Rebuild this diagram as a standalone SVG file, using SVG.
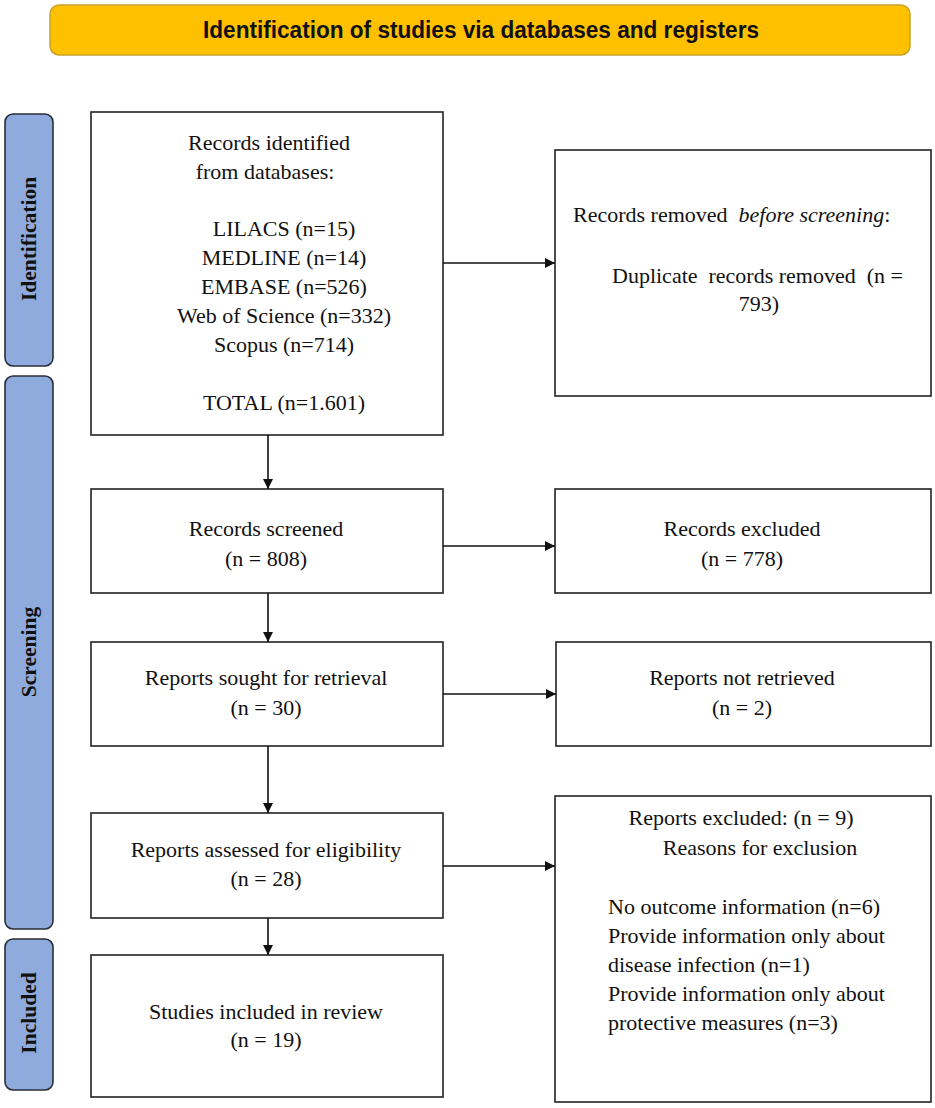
<svg xmlns="http://www.w3.org/2000/svg" width="935" height="1108" viewBox="0 0 935 1108">
<style>
.box{fill:#fff;stroke:#222;stroke-width:1.6}
.side{fill:#8FAADC;stroke:#2a2f38;stroke-width:1.6}
.t{font-family:"Liberation Serif","Times New Roman",serif;font-size:22px;fill:#111}
.c{text-anchor:middle}
.sl{font-family:"Liberation Serif","Times New Roman",serif;font-size:21.5px;font-weight:bold;fill:#111;text-anchor:middle}
.hd{font-family:"Liberation Sans",Arial,sans-serif;font-size:23px;font-weight:bold;fill:#111;text-anchor:middle}
.ln{stroke:#111;stroke-width:1.6;fill:none}
</style>
<defs>
<marker id="ar" viewBox="0 0 10 10" refX="10" refY="5" markerWidth="10" markerHeight="10" markerUnits="userSpaceOnUse" orient="auto">
<path d="M0,0 L10,5 L0,10 z" fill="#111"/>
</marker>
</defs>
<rect width="935" height="1108" fill="#fff"/>
<g id="header">
<rect x="50" y="5" width="860" height="50" rx="9" fill="#FFC000" stroke="#C9A227" stroke-width="1.5"/>
<text class="hd" x="481" y="38" textLength="556" lengthAdjust="spacingAndGlyphs">Identification of studies via databases and registers</text>
</g>
<g id="side-identification">
<rect class="side" x="5" y="114" width="48" height="252" rx="8"/>
<text class="sl" transform="translate(36,239) rotate(-90)">Identification</text>
</g>
<g id="side-screening">
<rect class="side" x="5" y="376" width="48" height="553" rx="8"/>
<text class="sl" transform="translate(36,652) rotate(-90)">Screening</text>
</g>
<g id="side-included">
<rect class="side" x="5" y="939" width="48" height="151" rx="8"/>
<text class="sl" transform="translate(36,1013) rotate(-90)">Included</text>
</g>
<g id="records-identified">
<rect class="box" x="91" y="112" width="352" height="323"/>
<text class="t c" x="269" y="150">Records identified</text>
<text class="t c" x="265" y="179">from databases:</text>
<text class="t c" x="284" y="236">LILACS (n=15)</text>
<text class="t c" x="284" y="265">MEDLINE (n=14)</text>
<text class="t c" x="284" y="294">EMBASE (n=526)</text>
<text class="t c" x="284" y="323">Web of Science (n=332)</text>
<text class="t c" x="284" y="352">Scopus (n=714)</text>
<text class="t c" x="284" y="410">TOTAL (n=1.601)</text>
</g>
<g id="records-removed">
<rect class="box" x="555" y="150" width="376" height="246"/>
<text class="t" x="573" y="222" xml:space="preserve">Records removed  <tspan font-style="italic">before screening</tspan>:</text>
<text class="t" x="612" y="283" xml:space="preserve">Duplicate  records removed  (n =</text>
<text class="t c" x="759" y="311">793)</text>
</g>
<g id="records-screened">
<rect class="box" x="91" y="489" width="352" height="104"/>
<text class="t c" x="266" y="536">Records screened</text>
<text class="t c" x="266" y="566">(n = 808)</text>
</g>
<g id="records-excluded">
<rect class="box" x="555" y="489" width="376" height="104"/>
<text class="t c" x="742" y="536">Records excluded</text>
<text class="t c" x="742" y="566">(n = 778)</text>
</g>
<g id="reports-sought">
<rect class="box" x="91" y="642" width="352" height="104"/>
<text class="t c" x="266" y="685">Reports sought for retrieval</text>
<text class="t c" x="266" y="715">(n = 30)</text>
</g>
<g id="reports-not-retrieved">
<rect class="box" x="556" y="642" width="375" height="104"/>
<text class="t c" x="742" y="685">Reports not retrieved</text>
<text class="t c" x="742" y="715">(n = 2)</text>
</g>
<g id="reports-assessed">
<rect class="box" x="91" y="813" width="352" height="105"/>
<text class="t c" x="266" y="857">Reports assessed for eligibility</text>
<text class="t c" x="266" y="886">(n = 28)</text>
</g>
<g id="reports-excluded">
<rect class="box" x="555" y="796" width="376" height="306"/>
<text class="t c" x="741" y="825">Reports excluded: (n = 9)</text>
<text class="t c" x="760" y="855">Reasons for exclusion</text>
<text class="t" x="608" y="914">No outcome information (n=6)</text>
<text class="t" x="608" y="943">Provide information only about</text>
<text class="t" x="608" y="972">disease infection (n=1)</text>
<text class="t" x="608" y="1001">Provide information only about</text>
<text class="t" x="608" y="1030">protective measures (n=3)</text>
</g>
<g id="studies-included">
<rect class="box" x="91" y="955" width="352" height="142"/>
<text class="t c" x="266" y="1019">Studies included in review</text>
<text class="t c" x="266" y="1047">(n = 19)</text>
</g>
<g id="connectors">
<line class="ln" x1="443" y1="263" x2="555" y2="263" marker-end="url(#ar)"/>
<line class="ln" x1="268" y1="435" x2="268" y2="489" marker-end="url(#ar)"/>
<line class="ln" x1="443" y1="546" x2="555" y2="546" marker-end="url(#ar)"/>
<line class="ln" x1="268" y1="593" x2="268" y2="642" marker-end="url(#ar)"/>
<line class="ln" x1="443" y1="694" x2="556" y2="694" marker-end="url(#ar)"/>
<line class="ln" x1="268" y1="746" x2="268" y2="813" marker-end="url(#ar)"/>
<line class="ln" x1="443" y1="866" x2="555" y2="866" marker-end="url(#ar)"/>
<line class="ln" x1="268" y1="918" x2="268" y2="955" marker-end="url(#ar)"/>
</g>
</svg>
